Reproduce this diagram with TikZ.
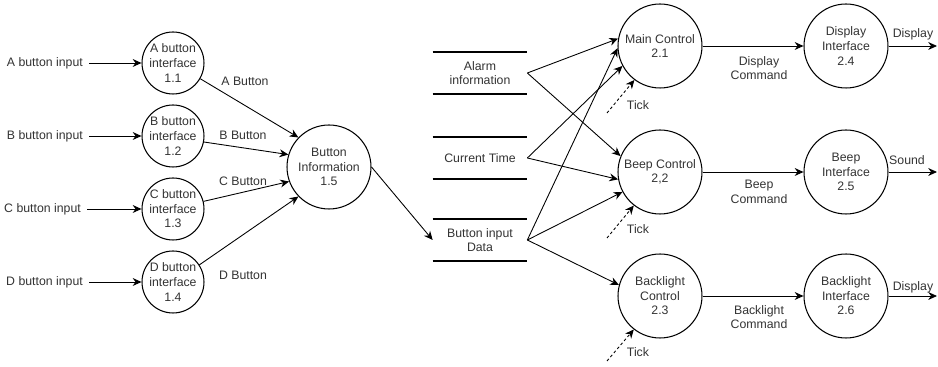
\documentclass[tikz,border=0pt]{standalone}
\usepackage{fontspec}
\setmainfont{Liberation Sans}
\usetikzlibrary{arrows.meta}

\begin{document}
\begin{tikzpicture}[x=0.02cm, y=-0.02cm,
        font=\fontsize{7}{8.3}\selectfont, text=black!80,
        proc/.style={draw, circle, minimum size=1.68cm, inner sep=0pt, align=center, line width=0.6pt},
        smallproc/.style={proc, minimum size=1.24cm},
        store/.style={minimum width=1.88cm, minimum height=0.84cm, inner sep=0pt, align=center},
        storeline/.style={line width=1.3pt},
        lbl/.style={align=center, inner sep=1pt},
        flow/.style={-{Stealth[length=5pt, width=4.5pt]}, line width=0.5pt},
        tickflow/.style={flow, dash pattern=on 1.6pt off 1.4pt}]
        \useasboundingbox (0,0) rectangle (938,367);

        % button side
        \node[smallproc] (a11) at (173,63) {A button\\interface\\1.1};
        \node[smallproc] (b12) at (173,136) {B button\\interface\\1.2};
        \node[smallproc] (c13) at (173,209) {C button\\interface\\1.3};
        \node[smallproc] (d14) at (173,282) {D button\\interface\\1.4};
        \node[proc] (bi15) at (329,167) {Button\\Information\\1.5};

        \node[anchor=east] (ain) at (89,63) {A button input};
        \node[anchor=east] (bin) at (89,136) {B button input};
        \node[anchor=east] (cin) at (87,209) {C button input};
        \node[anchor=east] (din) at (89,282) {D button input};

        \draw[flow] (ain) -- (a11);
        \draw[flow] (bin) -- (b12);
        \draw[flow] (cin) -- (c13);
        \draw[flow] (din) -- (d14);

        \draw[flow] (a11.-30) -- (bi15.136);
        \draw[flow] (b12.-11) -- (bi15.163);
        \draw[flow] (c13.14) -- (bi15.200);
        \draw[flow] (d14.33) -- (bi15.224);

        \node[lbl] (la) at (245,81) {A Button};
        \node[lbl] (lb) at (243,135) {B Button};
        \node[lbl] (lc) at (243,181) {C Button};
        \node[lbl] (ld) at (243,275) {D Button};

        % data stores
        \node[store] (al) at (480,73) {Alarm\\information};
        \node[store] (ct) at (480,158) {Current Time};
        \node[store] (bd) at (480,240) {Button input\\Data};
        \draw[storeline] (al.north west) -- (al.north east) (al.south west) -- (al.south east);
        \draw[storeline] (ct.north west) -- (ct.north east) (ct.south west) -- (ct.south east);
        \draw[storeline] (bd.north west) -- (bd.north east) (bd.south west) -- (bd.south east);

        \draw[flow] (bi15.east) -- (bd.west);

        % control side
        \node[proc] (mc) at (660,46) {Main Control\\2.1};
        \node[proc] (bc) at (660,172) {Beep Control\\2,2};
        \node[proc] (lt) at (660,296) {Backlight\\Control\\2.3};
        \node[proc] (di) at (846,46) {Display\\Interface\\2.4};
        \node[proc] (be) at (846,172) {Beep\\Interface\\2.5};
        \node[proc] (li) at (846,296) {Backlight\\Interface\\2.6};

        \draw[flow] (al.east) -- (mc.170);
        \draw[flow] (al.east) -- (bc.158);
        \draw[flow] (ct.east) -- (mc.208);
        \draw[flow] (ct.east) -- (bc.190);
        \draw[flow] (bd.east) -- (mc.183);
        \draw[flow] (bd.east) -- (bc.208);
        \draw[flow] (bd.east) -- (lt.165);

        \coordinate (t1) at (607,113);
        \coordinate (t2) at (607,238);
        \coordinate (t3) at (607,361);
        \draw[tickflow] (t1) -- (mc.233);
        \draw[tickflow] (t2) -- (bc.232);
        \draw[tickflow] (t3) -- (lt.232);
        \node[lbl] (tk1) at (638,105) {Tick};
        \node[lbl] (tk2) at (638,229) {Tick};
        \node[lbl] (tk3) at (638,352) {Tick};

        \draw[flow] (mc.east) -- (di.west);
        \draw[flow] (bc.east) -- (be.west);
        \draw[flow] (lt.east) -- (li.west);
        \node[lbl] (dc) at (759,68) {Display\\Command};
        \node[lbl] (bcm) at (759,192) {Beep\\Command};
        \node[lbl] (lcm) at (759,317) {Backlight\\Command};

        \coordinate (o1) at (937,46);
        \coordinate (o2) at (937,172);
        \coordinate (o3) at (937,296);
        \draw[flow] (di.east) -- (o1);
        \draw[flow] (be.east) -- (o2);
        \draw[flow] (li.east) -- (o3);
        \node[lbl] (od) at (913,34) {Display};
        \node[lbl] (os) at (907,160) {Sound};
        \node[lbl] (ol) at (913,287) {Display};
    \end{tikzpicture}
\end{document}
